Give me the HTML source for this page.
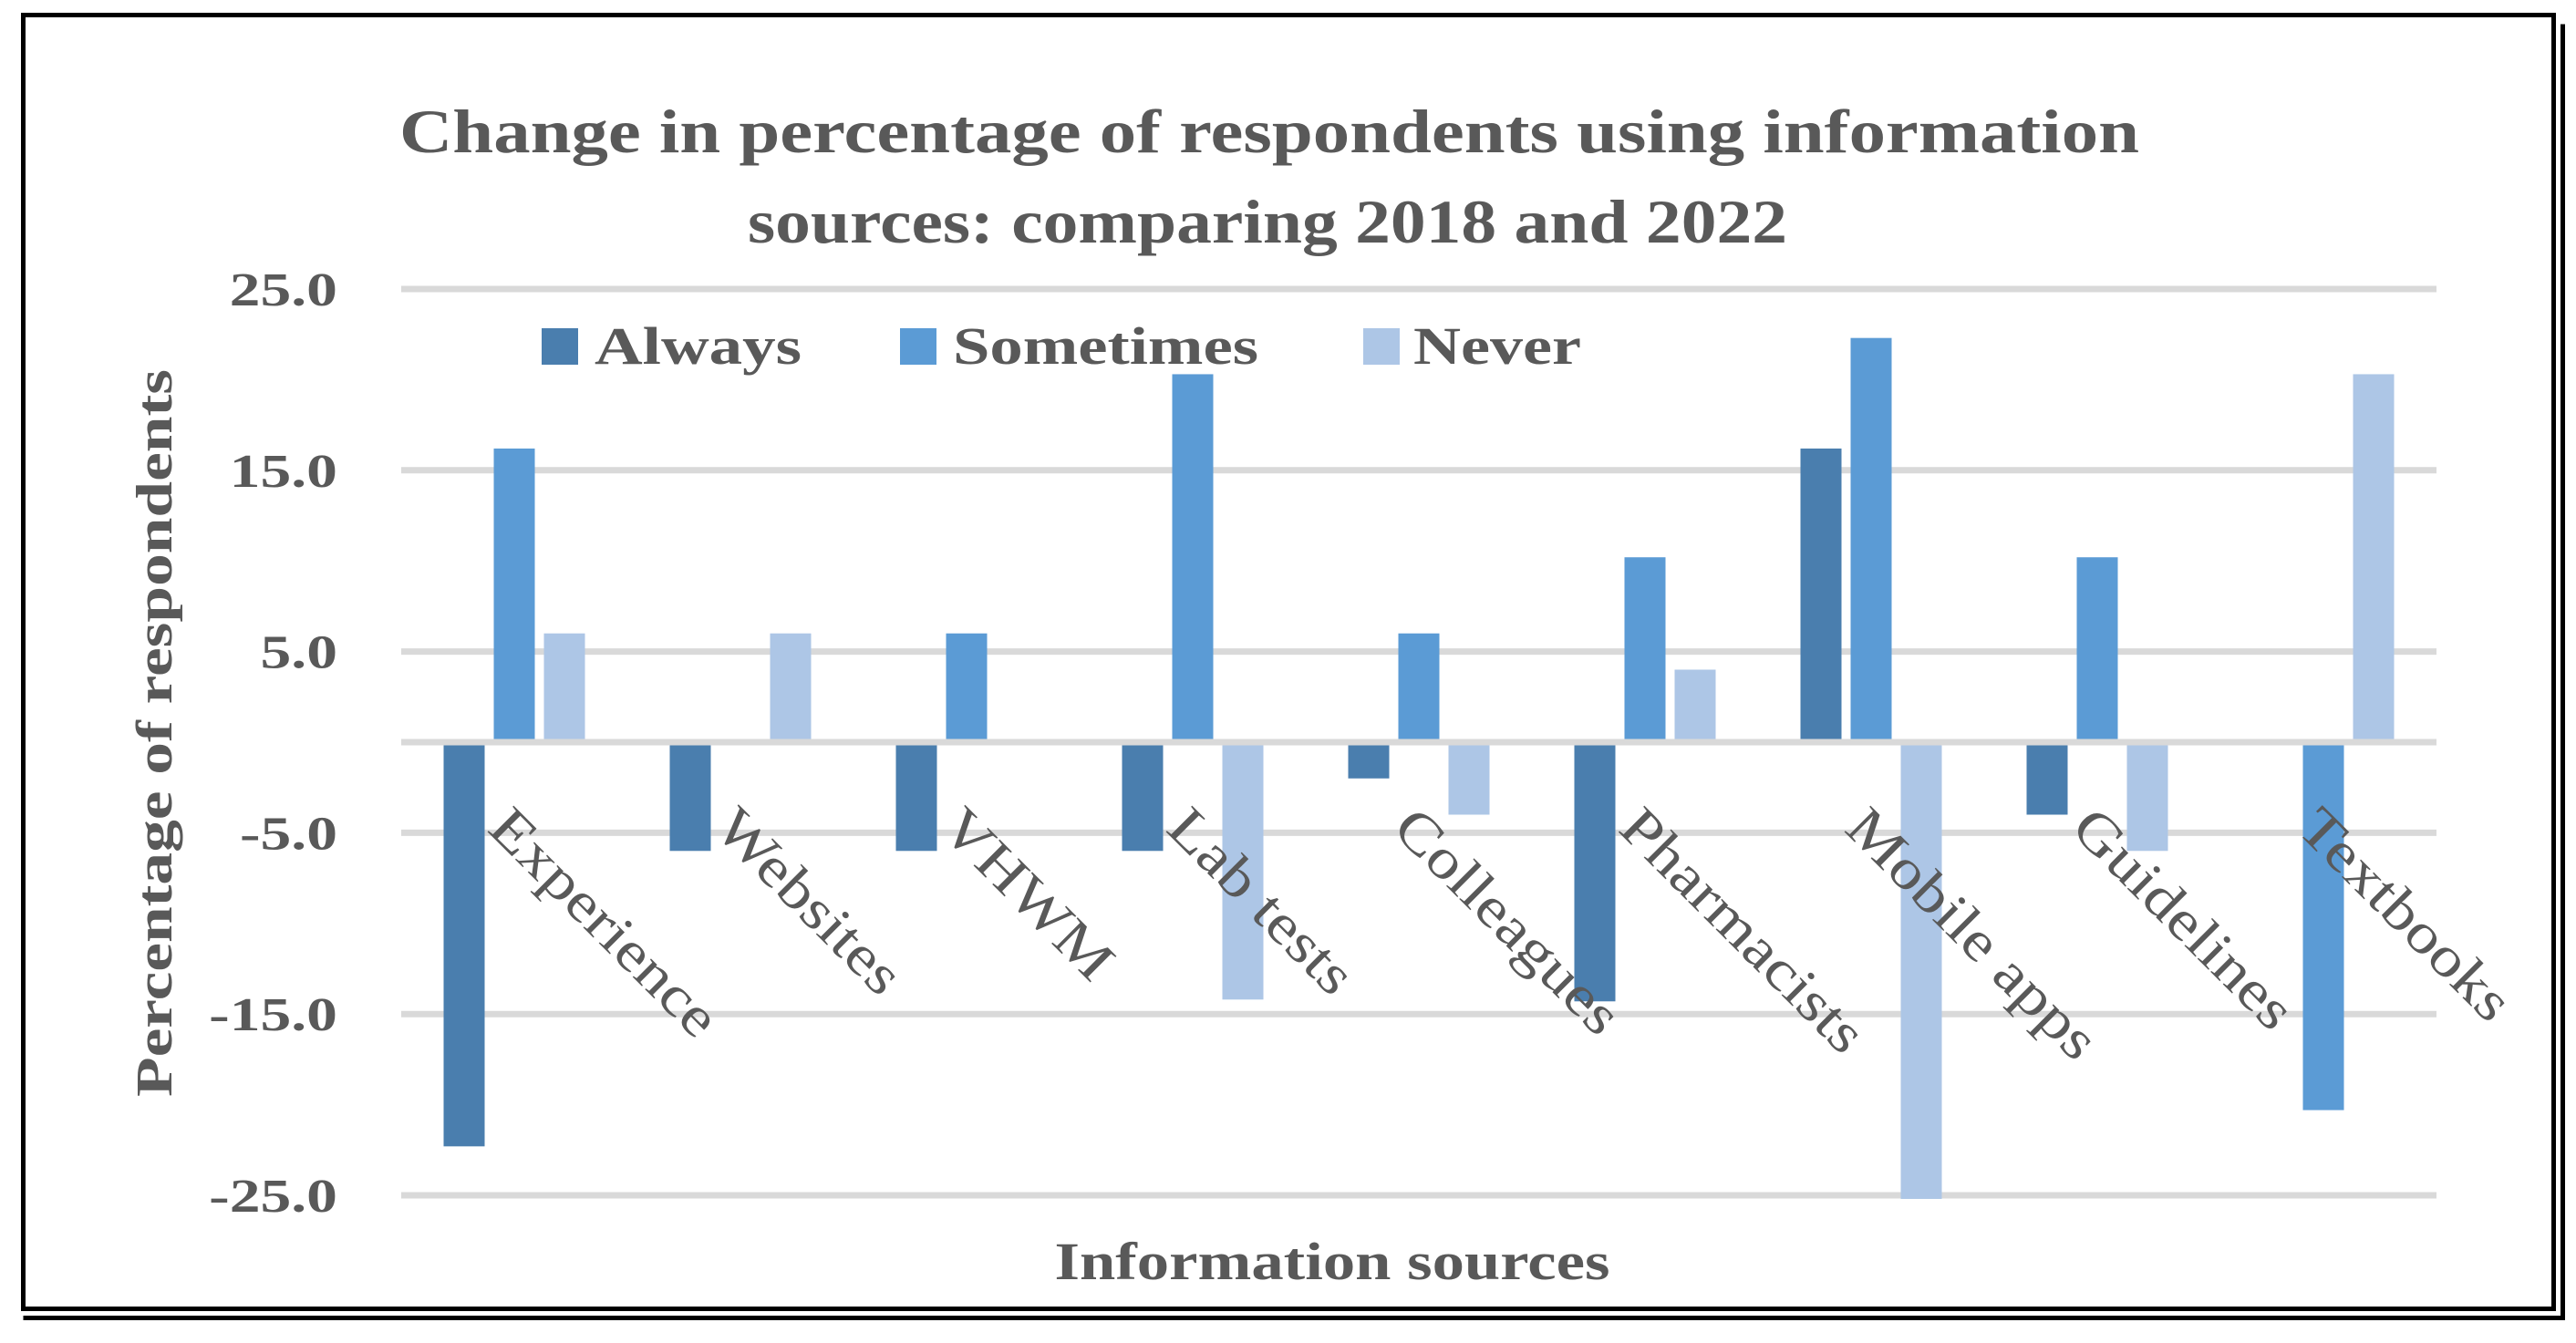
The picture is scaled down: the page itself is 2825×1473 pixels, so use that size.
<!DOCTYPE html>
<html><head><meta charset="utf-8"><style>
html,body{margin:0;padding:0;background:#fff;}
svg{display:block;}
text{font-family:"Liberation Serif",serif;fill:#595959;}
</style></head><body>
<svg id="chart" width="2825" height="1473" viewBox="0 0 2825 1473" xmlns="http://www.w3.org/2000/svg">
<rect x="0" y="0" width="2825" height="1473" fill="#fff"/>
<rect x="25.5" y="16.5" width="2775" height="1419" fill="none" stroke="#000" stroke-width="5"/>
<polyline points="25.5,1445.5 2810.5,1445.5 2810.5,26.5" fill="none" stroke="#000" stroke-width="5"/>
<text x="1392" y="167" text-anchor="middle" font-size="68" font-weight="bold" textLength="1908" lengthAdjust="spacingAndGlyphs">Change in percentage of respondents using information</text>
<text x="1390" y="266" text-anchor="middle" font-size="68" font-weight="bold" textLength="1140" lengthAdjust="spacingAndGlyphs">sources: comparing 2018 and 2022</text>
<g id="grid"></g>
<g id="yticks"></g>
<g id="bars"></g>
<g id="xlabels"></g>
<text transform="translate(188,804) rotate(-90)" text-anchor="middle" font-size="56" font-weight="bold" textLength="798" lengthAdjust="spacingAndGlyphs">Percentage of respondents</text>
<text x="1461" y="1403" text-anchor="middle" font-size="58" font-weight="bold" textLength="609" lengthAdjust="spacingAndGlyphs">Information sources</text>
<g>
<g><rect x="594" y="360" width="40" height="40" fill="#4a7eae"/><text x="652" y="399" font-size="58" font-weight="bold" textLength="227" lengthAdjust="spacingAndGlyphs">Always</text></g>
<g><rect x="987" y="360" width="40" height="40" fill="#5b9bd5"/><text x="1045" y="399" font-size="58" font-weight="bold" textLength="335" lengthAdjust="spacingAndGlyphs">Sometimes</text></g>
<g><rect x="1495" y="360" width="40" height="40" fill="#adc6e6"/><text x="1550" y="399" font-size="58" font-weight="bold" textLength="184" lengthAdjust="spacingAndGlyphs">Never</text></g>
</g>
</svg>
<script>
const categories = ["Experience","Websites","VHWM","Lab tests","Colleagues","Pharmacists","Mobile apps","Guidelines","Textbooks"];
const alwaysValues = [-22.3, -6.0, -6.0, -6.0, -2.0, -14.3, 16.2, -4.0, 0];
const sometimesValues = [16.2, 0, 6.0, 20.3, 6.0, 10.2, 22.3, 10.2, -20.3];
const neverValues = [6.0, 6.0, 0, -14.2, -4.0, 4.0, -25.2, -6.0, 20.3];
const yTicks = [25, 15, 5, -5, -15, -25];
const yTickLabels = ["25.0","15.0","5.0","-5.0","-15.0","-25.0"];

const NS = "http://www.w3.org/2000/svg";
const plotLeft = 440, plotRight = 2672, y0 = 814, pxPerUnit = 19.88;
const groupW = (plotRight - plotLeft) / categories.length;
const barW = 45, barStep = 55;
function yScale(v){ return y0 - v * pxPerUnit; }
function xCenter(i){ return plotLeft + groupW * (i + 0.5); }
function mk(tag, attrs){ const e = document.createElementNS(NS, tag); for (const k in attrs) e.setAttribute(k, attrs[k]); return e; }
function stretch(t, f){ const w = t.getComputedTextLength(); if (w > 0) { t.setAttribute('textLength', (w * f).toFixed(1)); t.setAttribute('lengthAdjust', 'spacingAndGlyphs'); } }

const grid = document.getElementById('grid');
const yt = document.getElementById('yticks');
yTicks.forEach((t, i) => {
  const y = yScale(t);
  const l = mk('line', {x1: plotLeft, x2: plotRight, y1: y, y2: y, stroke: '#d9d9d9', 'stroke-width': 7});
  
  
  grid.appendChild(l);
  const tx = mk('text', {x: 370, y: y + 18, 'text-anchor': 'end', 'font-size': 52, 'font-weight': 'bold'});
  tx.textContent = yTickLabels[i];
  
  
  yt.appendChild(tx);
  stretch(tx, 1.3);
});
const zl = mk('line', {x1: plotLeft, x2: plotRight, y1: y0, y2: y0, stroke: '#d9d9d9', 'stroke-width': 7});


grid.appendChild(zl);

const bars = document.getElementById('bars');
const series = [[alwaysValues, '#4a7eae', 'always'], [sometimesValues, '#5b9bd5', 'sometimes'], [neverValues, '#adc6e6', 'never']];
series.forEach((s, si) => {
  s[0].forEach((v, i) => {
    if (v === 0) return;
    const cx = xCenter(i) + (si - 1) * barStep;
    const y = yScale(v);
    const h = Math.abs(y - y0);
    const r = mk('rect', {x: cx - barW / 2, y: v > 0 ? y : y0 + 3.5, width: barW, height: Math.max(0, h - 3.5), fill: s[1]});
    
    
    bars.appendChild(r);
  });
});

const xl = document.getElementById('xlabels');
categories.forEach((c, i) => {
  const x = xCenter(i) + 2, y = 878;
  const t = mk('text', {transform: 'translate(' + x + ',' + y + ') rotate(45)', 'font-size': 62, dy: '0.75em'});
  t.textContent = c;
  
  
  xl.appendChild(t);
  stretch(t, 1.17);
});
</script>
</body></html>
